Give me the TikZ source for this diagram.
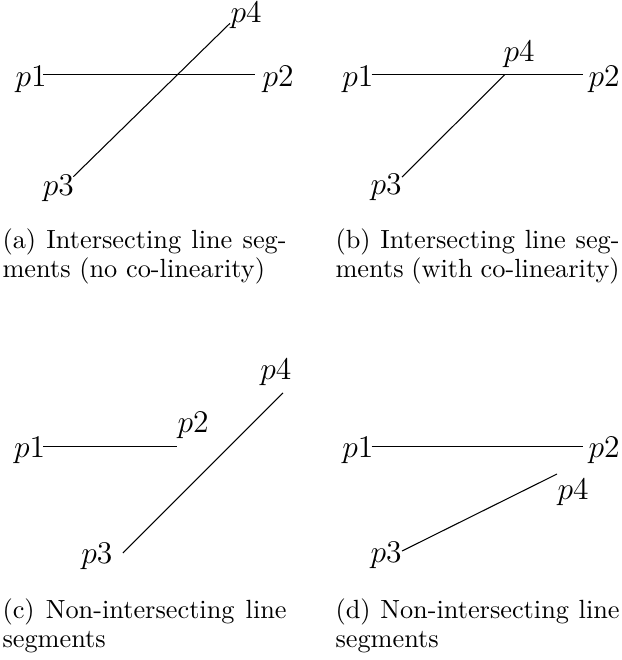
\documentclass[tikz,border=0pt]{standalone}
\usepackage{amsmath}
\usetikzlibrary{calc}
\tikzset{
  ptlabel/.style={inner sep=0pt, font=\large},
  subcap/.style={inner sep=0pt, anchor=north west, text width=108pt,
    align=justify, font=\fontsize{10}{11}\selectfont},
}
\begin{document}
\begin{tikzpicture}
        \useasboundingbox (0,0) rectangle (8.297,-8.818);
        % (a) Intersecting, no co-linearity
        \coordinate (a1) at (0.578,-0.995);
        \coordinate (a2) at (3.407,-0.995);
        \coordinate (a3) at (0.979,-2.361);
        \coordinate (a4) at (3.073,-0.311);
        \draw (a1) -- (a2);
        \draw (a3) -- (a4);
        \node[ptlabel, anchor=base east] (la1) at ($(a1)+(0.05,-0.167)$) {$p1$};
        \node[ptlabel, anchor=base west] (la2) at ($(a2)+(0.094,-0.167)$) {$p2$};
        \node[ptlabel, anchor=base east] (la3) at ($(a3)+(0.013,-0.245)$) {$p3$};
        \node[ptlabel, anchor=base west] (la4) at ($(a4)+(0,0.017)$) {$p4$};
        \node[subcap] (capa) at (0.027,-3.05) {(a) Intersecting line seg-\linebreak ments (no co-linearity)};
        % (b) Intersecting, with co-linearity
        \coordinate (b1) at (4.966,-0.995);
        \coordinate (b2) at (7.789,-0.995);
        \coordinate (b3) at (5.371,-2.365);
        \coordinate (b4) at (6.747,-0.995);
        \draw (b1) -- (b2);
        \draw (b3) -- (b4);
        \node[ptlabel, anchor=base east] (lb1) at ($(b1)+(0.03,-0.167)$) {$p1$};
        \node[ptlabel, anchor=base west] (lb2) at ($(b2)+(0.067,-0.167)$) {$p2$};
        \node[ptlabel, anchor=base east] (lb3) at ($(b3)+(0,-0.24)$) {$p3$};
        \node[ptlabel, anchor=base west] (lb4) at ($(b4)+(-0.027,0.174)$) {$p4$};
        \node[subcap] (capb) at (4.476,-3.05) {(b) Intersecting line seg-\linebreak ments (with co-linearity)};
        % (c) Non-intersecting
        \coordinate (c1) at (0.578,-5.968);
        \coordinate (c2) at (2.365,-5.968);
        \coordinate (c3) at (1.643,-7.388);
        \coordinate (c4) at (3.781,-5.250);
        \draw (c1) -- (c2);
        \draw (c3) -- (c4);
        \node[ptlabel, anchor=base east] (lc1) at ($(c1)+(0.03,-0.151)$) {$p1$};
        \node[ptlabel, anchor=base west] (lc2) at ($(c2)+(0,0.183)$) {$p2$};
        \node[ptlabel, anchor=base east] (lc3) at ($(c3)+(-0.134,-0.134)$) {$p3$};
        \node[ptlabel, anchor=base east] (lc4) at ($(c4)+(0.12,0.174)$) {$p4$};
        \node[subcap] (capc) at (0.027,-7.993) {(c) Non-intersecting line\linebreak segments};
        % (d) Non-intersecting
        \coordinate (d1) at (4.966,-5.968);
        \coordinate (d2) at (7.789,-5.968);
        \coordinate (d3) at (5.371,-7.362);
        \coordinate (d4) at (7.442,-6.333);
        \draw (d1) -- (d2);
        \draw (d3) -- (d4);
        \node[ptlabel, anchor=base east] (ld1) at ($(d1)+(0.03,-0.151)$) {$p1$};
        \node[ptlabel, anchor=base west] (ld2) at ($(d2)+(0.067,-0.151)$) {$p2$};
        \node[ptlabel, anchor=base east] (ld3) at ($(d3)+(0,-0.147)$) {$p3$};
        \node[ptlabel, anchor=base west] (ld4) at ($(d4)+(0,-0.347)$) {$p4$};
        \node[subcap] (capd) at (4.476,-7.993) {(d) Non-intersecting line\linebreak segments};
\end{tikzpicture}
\end{document}
